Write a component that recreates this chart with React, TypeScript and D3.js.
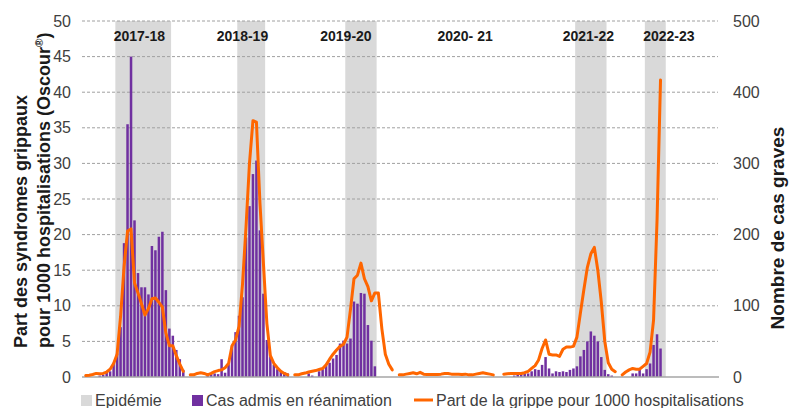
import React from 'react';
import * as d3 from 'd3';

// Saisons grippales (semaines à partir de S40)
const seasons = ['2017-18', '2018-19', '2019-20', '2020- 21', '2021-22', '2022-23'];

// Part de la grippe pour 1000 hospitalisations (axe gauche)
const grippe1718 = [0.2, 0.25, 0.35, 0.5, 0.45, 0.5, 0.7, 1.1, 1.9, 3.2, 8.5, 15.5, 20.5, 20.8, 13.2, 11.8, 10.3, 8.7, 9.6, 11.0, 11.1, 10.5, 9.8, 6.2, 4.4, 4.4, 3.0, 1.8, 0.8];
const grippe1819 = [0.3, 0.3, 0.5, 0.6, 0.5, 0.3, 0.5, 0.75, 0.9, 1.0, 1.3, 1.9, 4.4, 5.2, 7.1, 13.0, 21.0, 30.0, 36.0, 35.8, 24.5, 16.0, 7.5, 3.0, 1.9, 1.3, 0.8, 0.5, 0.3];
const grippe1920 = [0.3, 0.3, 0.45, 0.55, 0.7, 0.8, 0.9, 1.05, 1.2, 1.7, 2.5, 3.2, 3.8, 4.3, 4.6, 5.6, 9.5, 13.8, 14.3, 16.0, 13.8, 12.7, 10.7, 11.8, 11.8, 6.8, 3.2, 1.8, 1.0];
const grippe2021 = [0.3, 0.3, 0.4, 0.5, 0.6, 0.45, 0.65, 0.4, 0.35, 0.35, 0.35, 0.35, 0.4, 0.5, 0.5, 0.4, 0.4, 0.4, 0.35, 0.4, 0.3, 0.3, 0.4, 0.5, 0.6, 0.5, 0.4, 0.3];
const grippe2122 = [0.4, 0.45, 0.5, 0.5, 0.5, 0.5, 0.6, 0.8, 1.2, 1.6, 2.4, 4.0, 5.2, 3.2, 3.1, 3.1, 2.9, 3.9, 4.2, 4.2, 4.3, 5.6, 9.0, 12.3, 15.4, 17.3, 18.2, 15.0, 10.5, 5.0, 2.0, 1.1, 0.75];
const grippe2223 = [0.3, 0.7, 1.0, 1.2, 1.1, 1.1, 1.5, 1.9, 3.5, 8.0, 22.0, 41.7];

// Cas admis en réanimation (axe droit)
const cas1718 = [0, 0, 0, 0, 2, 3, 8, 8, 20, 33, 70, 188, 355, 450, 220, 146, 126, 126, 116, 184, 178, 197, 204, 122, 68, 58, 38, 25, 10];
const cas1819 = [0, 0, 0, 0, 0, 5, 4, 5, 4, 25, 6, 18, 44, 63, 86, 112, 196, 240, 285, 304, 206, 117, 52, 29, 17, 11, 9, 7, 5];
const cas1920 = [0, 0, 0, 0, 5, 2, 0, 8, 11, 16, 20, 26, 31, 47, 51, 47, 54, 106, 103, 118, 117, 73, 51, 15, 0, 0, 0, 0, 0];
const cas2021 = [0, 0, 0, 0, 0, 0, 0, 0, 0, 0, 0, 0, 0, 0, 0, 0, 0, 0, 0, 0, 0, 0, 0, 0, 0, 0, 0, 0];
const cas2122 = [0, 0, 0, 2, 3, 4, 5, 5, 8, 11, 10, 17, 28, 12, 5, 8, 7, 8, 7, 10, 12, 15, 29, 38, 50, 64, 58, 50, 28, 10, 4, 2, 0];
const cas2223 = [0, 0, 0, 5, 5, 11, 5, 11, 19, 45, 60, 40];

const grippe = [grippe1718, grippe1819, grippe1920, grippe2021, grippe2122, grippe2223];
const cas = [cas1718, cas1819, cas1920, cas2021, cas2122, cas2223];

// semaines sans donnée entre deux saisons, et en fin d'axe
const gapWeeks = [1, 1, 1, 2, 1];
const trailingWeeks = 16;

// période épidémique (index de semaine dans la saison)
const epidemicStart = [9, 14, 15, null, 21, 7];
const epidemicEnd = [24, 21, 23, null, 29, 12];

// centre de l'étiquette de saison (en semaines depuis le début de la saison)
const labelWeek = [15.9, 15.5, 15.2, 19.4, 24.8, 13.9];

const leftTicks = [0, 5, 10, 15, 20, 25, 30, 35, 40, 45, 50];
const rightTicks = [0, 100, 200, 300, 400, 500];

const W = 789;
const H = 408;
const font = '"Liberation Sans", Arial, sans-serif';

export default function App() {
  // position de départ de chaque saison sur l'axe des semaines
  const offsets: number[] = [];
  let acc = 0;
  seasons.forEach((_, s) => {
    offsets.push(acc);
    acc += grippe[s].length + (s < gapWeeks.length ? gapWeeks[s] : trailingWeeks);
  });
  const totalWeeks = acc;

  const x = d3.scaleLinear().domain([0, totalWeeks]).range([84, 718]);
  const yL = d3.scaleLinear().domain([0, 50]).range([377, 21]);
  const yR = d3.scaleLinear().domain([0, 500]).range([377, 21]);
  const step = x(1) - x(0);
  const barW = step * 0.72;

  return (
    <svg width={W} height={H} style={{ position: 'absolute', left: 0, top: 0, fontFamily: font }}>
      <rect width={W} height={H} fill="#fff" />

      {/* périodes épidémiques */}
      {seasons.map((s, i) =>
        epidemicStart[i] == null ? null : (
          <rect
            key={'epi' + s}
            x={x(offsets[i] + (epidemicStart[i] as number))}
            y={yL(50)}
            width={x(offsets[i] + (epidemicEnd[i] as number) + 1) - x(offsets[i] + (epidemicStart[i] as number))}
            height={yL(0) - yL(50)}
            fill="#d9d9d9"
          />
        )
      )}

      {/* grille */}
      {leftTicks.filter((t) => t > 0).map((t) => (
        <line key={'g' + t} x1={82} x2={718} y1={yL(t)} y2={yL(t)} stroke="#a0a0a0" strokeWidth={1} strokeDasharray="3,2" />
      ))}

      {/* barres : cas admis en réanimation */}
      {cas.map((arr, s) =>
        arr.map((v, i) =>
          v > 0 ? (
            <rect
              key={`b${s}-${i}`}
              x={x(offsets[s] + i) + (step - barW) / 2}
              y={yR(v)}
              width={barW}
              height={yR(0) - yR(v)}
              fill="#7030a0"
            />
          ) : null
        )
      )}

      {/* axe horizontal */}
      <line x1={82} x2={719} y1={yL(0)} y2={yL(0)} stroke="#a6a6a6" strokeWidth={1.5} />

      {/* courbe : part de la grippe */}
      {grippe.map((arr, s) => {
        const gen = d3
          .line<number>()
          .x((_, i) => x(offsets[s] + i + 0.5))
          .y((d) => yL(d));
        return (
          <path key={'l' + s} d={gen(arr) || ''} fill="none" stroke="#ff6600" strokeWidth={3} strokeLinejoin="round" strokeLinecap="round" />
        );
      })}

      {/* étiquettes de saison */}
      {seasons.map((s, i) => (
        <text key={'lab' + s} x={x(offsets[i] + labelWeek[i])} y={41} textAnchor="middle" fontSize={14} fontWeight="bold" fill="#1a1a1a">
          {s}
        </text>
      ))}

      {/* axe gauche */}
      {leftTicks.map((t) => (
        <text key={'lt' + t} x={71} y={yL(t)} dy="0.35em" textAnchor="end" fontSize={16} fill="#404040">
          {t}
        </text>
      ))}
      {/* axe droit */}
      {rightTicks.map((t) => (
        <text key={'rt' + t} x={733} y={yR(t)} dy="0.35em" textAnchor="start" fontSize={16} fill="#404040">
          {t}
        </text>
      ))}

      {/* titres d'axes */}
      <text transform="translate(27,348) rotate(-90)" fontSize={18} fontWeight="bold" fill="#1a1a1a">
        Part des syndromes grippaux
      </text>
      <text transform="translate(50,348) rotate(-90)" fontSize={18} fontWeight="bold" fill="#1a1a1a">
        pour 1000 hospitalisations (Oscour
        <tspan fontSize={11.5} dy={-7}>®</tspan>
        <tspan dy={7}>)</tspan>
      </text>
      <text transform="translate(784,228) rotate(-90)" textAnchor="middle" fontSize={19} fontWeight="bold" fill="#1a1a1a">
        Nombre de cas graves
      </text>

      {/* légende */}
      <rect x={81} y={395} width={11} height={11} fill="#d9d9d9" />
      <text x={95} y={406} fontSize={16} fill="#404040">Epidémie</text>
      <rect x={192} y={395} width={11} height={11} fill="#7030a0" />
      <text x={206} y={406} fontSize={16} fill="#404040">Cas admis en réanimation</text>
      <line x1={414} x2={433} y1={400} y2={400} stroke="#ff6600" strokeWidth={3} />
      <text x={436} y={406} fontSize={16} fill="#404040">Part de la grippe pour 1000 hospitalisations</text>
    </svg>
  );
}
